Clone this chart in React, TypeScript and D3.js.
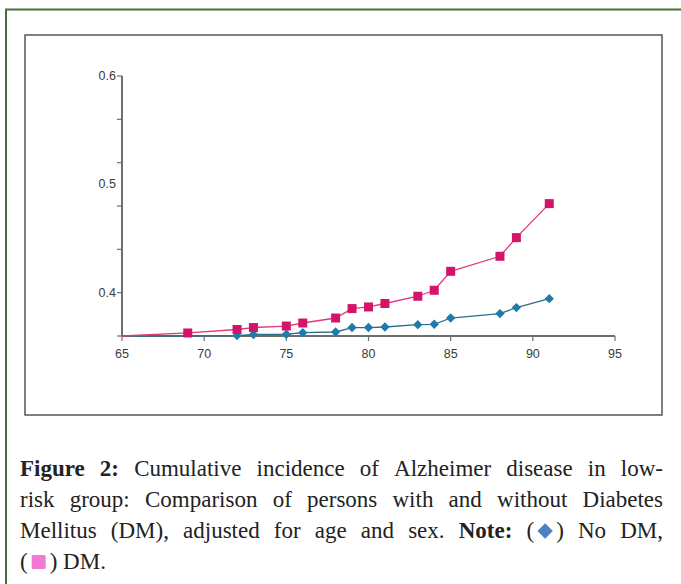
import React, { useRef, useEffect } from 'react';
import * as d3 from 'd3';

// ages and cumulative incidence
const dmAges = [65, 69, 72, 73, 75, 76, 78, 79, 80, 81, 83, 84, 85, 88, 89, 91];
const dmValues = [0.36, 0.3628, 0.366, 0.3678, 0.3692, 0.372, 0.3766, 0.3853, 0.3868, 0.39, 0.3967, 0.4022, 0.4197, 0.4336, 0.4508, 0.4822];
const noDmAges = [65, 72, 73, 75, 76, 78, 79, 80, 81, 83, 84, 85, 88, 89, 91];
const noDmValues = [0.36, 0.3604, 0.3614, 0.3616, 0.3631, 0.3637, 0.3678, 0.3678, 0.3683, 0.3705, 0.3708, 0.3766, 0.3807, 0.3862, 0.3945];
const xTicks = [65, 70, 75, 80, 85, 90, 95];
const yTicks = [0.36, 0.4, 0.44, 0.48, 0.52, 0.56, 0.6];
const yLabels = [0.4, 0.5, 0.6];

// caption words; "*" marks bold, "#D" / "#S" the diamond / square legend keys
const captionLines = [
  '*Figure *2: Cumulative incidence of Alzheimer disease in low-',
  'risk group: Comparison of persons with and without Diabetes',
  'Mellitus (DM), adjusted for age and sex. *Note: #D No DM,',
  '#S DM.',
];

const serif = 'Liberation Serif, Times New Roman, serif';

const App = () => {
  const ref = useRef<SVGSVGElement>(null);

  useEffect(() => {
    const svg = d3.select(ref.current);
    svg.selectAll('*').remove();

    // outer green frame
    svg.append('path')
      .attr('d', 'M6,590 L6,9.5 L700,9.5')
      .attr('fill', 'none')
      .attr('stroke', '#44703a')
      .attr('stroke-width', 2);

    // inner chart box
    svg.append('rect')
      .attr('x', 25).attr('y', 35).attr('width', 637).attr('height', 380)
      .attr('fill', 'none').attr('stroke', '#555').attr('stroke-width', 1.5);

    const x = d3.scaleLinear().domain([65, 95]).range([122, 615]);
    const y = d3.scaleLinear().domain([0.36, 0.6]).range([336, 76]);
    const g = svg.append('g');

    // y axis
    g.append('line').attr('x1', x(65)).attr('x2', x(65)).attr('y1', y(0.6)).attr('y2', y(0.36))
      .attr('stroke', '#6e6e6e').attr('stroke-width', 2);
    g.selectAll('.yt').data(yTicks).join('line')
      .attr('x1', x(65) - 5).attr('x2', x(65)).attr('y1', d => y(d)).attr('y2', d => y(d))
      .attr('stroke', '#6e6e6e').attr('stroke-width', 1.2);
    g.selectAll('.yl').data(yLabels).join('text')
      .attr('x', x(65) - 6).attr('y', d => y(d) + 4)
      .attr('text-anchor', 'end')
      .attr('font-family', 'Liberation Sans, Arial, sans-serif')
      .attr('font-size', 12.5).attr('fill', '#3c3c3c')
      .text(d => d.toFixed(1));

    // x axis
    g.append('line').attr('x1', x(65)).attr('x2', x(95)).attr('y1', y(0.36)).attr('y2', y(0.36))
      .attr('stroke', '#6e6e6e').attr('stroke-width', 2);
    g.selectAll('.xt').data(xTicks).join('line')
      .attr('x1', d => x(d)).attr('x2', d => x(d)).attr('y1', y(0.36)).attr('y2', y(0.36) + 5)
      .attr('stroke', '#6e6e6e').attr('stroke-width', 1.2);
    g.selectAll('.xl').data(xTicks).join('text')
      .attr('x', d => x(d)).attr('y', y(0.36) + 22)
      .attr('text-anchor', 'middle')
      .attr('font-family', 'Liberation Sans, Arial, sans-serif')
      .attr('font-size', 12.5).attr('fill', '#3c3c3c')
      .text(d => d);

    const line = d3.line<[number, number]>().x(d => x(d[0])).y(d => y(d[1]));
    const dm = dmAges.map((a, i) => [a, dmValues[i]] as [number, number]);
    const noDm = noDmAges.map((a, i) => [a, noDmValues[i]] as [number, number]);

    g.append('path').datum(noDm).attr('d', line)
      .attr('fill', 'none').attr('stroke', '#2c6d8c').attr('stroke-width', 1.3);
    g.append('path').datum(dm).attr('d', line)
      .attr('fill', 'none').attr('stroke', '#e2397a').attr('stroke-width', 1.3);

    const sym = d3.symbol().type(d3.symbolDiamond2).size(56);
    g.selectAll('.nd').data(noDm.slice(1)).join('path')
      .attr('d', sym)
      .attr('transform', d => `translate(${x(d[0])},${y(d[1])})`)
      .attr('fill', '#1f7bab');
    g.selectAll('.dm').data(dm.slice(1)).join('rect')
      .attr('x', d => x(d[0]) - 4.5).attr('y', d => y(d[1]) - 4.5)
      .attr('width', 9).attr('height', 9)
      .attr('fill', '#d3156a');

    // caption: words laid out one by one, first three lines justified
    const left = 20, right = 663, fs = 23;
    const baselines = [476, 507, 538, 569];
    const keyGap = 22;
    const measure = (s: string, bold: boolean) => {
      const t = svg.append('text').attr('font-family', serif).attr('font-size', fs)
        .attr('font-weight', bold ? 'bold' : 'normal').text(s);
      const w = (t.node() as SVGTextElement).getComputedTextLength();
      t.remove();
      return w;
    };
    const parenW = measure('(', false);
    const spaceW = measure('a b', false) - measure('ab', false);

    captionLines.forEach((ln, i) => {
      const words = ln.split(' ').map(w => {
        if (w === '#D' || w === '#S') return { t: w, b: false, key: w, w: parenW * 2 + keyGap };
        const b = w.startsWith('*');
        const t = b ? w.slice(1) : w;
        return { t, b, key: '', w: measure(t, b) };
      });
      const total = d3.sum(words, d => d.w);
      const gap = i < 3 ? (right - left - total) / (words.length - 1) : spaceW;
      let cx = left;
      const by = baselines[i];
      words.forEach(wd => {
        if (wd.key) {
          svg.append('text').attr('x', cx).attr('y', by).attr('font-family', serif)
            .attr('font-size', fs).attr('fill', '#222').text('(');
          svg.append('text').attr('x', cx + parenW + keyGap).attr('y', by).attr('font-family', serif)
            .attr('font-size', fs).attr('fill', '#222').text(')');
          const mid = cx + parenW + keyGap / 2;
          if (wd.key === '#D') {
            svg.append('path')
              .attr('d', d3.symbol().type(d3.symbolDiamond2).size(150)())
              .attr('transform', `translate(${mid},${by - 7})`)
              .attr('fill', '#4a83c4');
          } else {
            svg.append('rect')
              .attr('x', mid - 7).attr('y', by - 14).attr('width', 14).attr('height', 14)
              .attr('rx', 1.5).attr('fill', '#f07ad4');
          }
        } else {
          svg.append('text').attr('x', cx).attr('y', by).attr('font-family', serif)
            .attr('font-size', fs).attr('fill', '#222')
            .attr('font-weight', wd.b ? 'bold' : 'normal').text(wd.t);
        }
        cx += wd.w + gap;
      });
    });
  }, []);

  return (
    <svg ref={ref} width={681} height={584} style={{ position: 'absolute', left: 0, top: 0 }} />
  );
};

export default App;
